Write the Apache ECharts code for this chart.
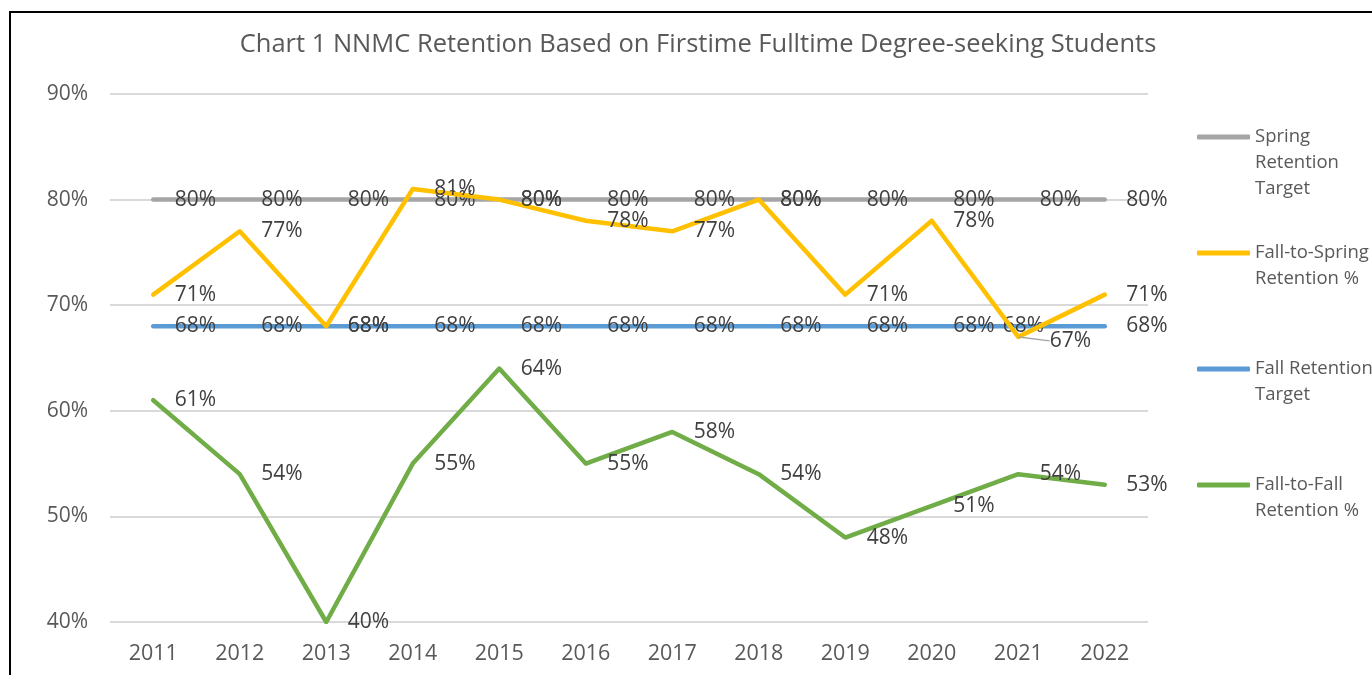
<!DOCTYPE html>
<html><head><meta charset="utf-8">
<script src="https://cdn.jsdelivr.net/npm/echarts@6/dist/echarts.min.js"></script>
<style>html,body{margin:0;padding:0;background:#fff}#c{width:1372px;height:675px}</style>
</head><body><div id="c"></div>
<script>
const years = ['2011','2012','2013','2014','2015','2016','2017','2018','2019','2020','2021','2022'];
const springTarget = [80,80,80,80,80,80,80,80,80,80,80,80];
const fallToSpring = [71,77,68,81,80,78,77,80,71,78,67,71];
const fallTarget = [68,68,68,68,68,68,68,68,68,68,68,68];
const fallToFall = [61,54,40,55,64,55,58,54,48,51,54,53];
const yTicks = {min:40, max:90, interval:10};
const seriesNames = ['Spring Retention Target','Fall-to-Spring Retention %','Fall Retention Target','Fall-to-Fall Retention %'];
const legendText = ['Spring\nRetention\nTarget','Fall-to-Spring\nRetention %','Fall Retention\nTarget','Fall-to-Fall\nRetention %'];
const colors = ['#A5A5A5','#FFC000','#5B9BD5','#70AD47'];
const FONT = 'Open Sans';
const LH = 26;

const chart = echarts.init(document.getElementById('c'));
function mkSeries(i, data, z) {
  return {
    name: seriesNames[i], type: 'line', data: data, z: z,
    symbol: 'circle', symbolSize: 1, showSymbol: true,
    itemStyle: {color: colors[i]},
    lineStyle: {color: colors[i], width: 4.5, cap: 'round', join: 'round'},
    label: {show: true, position: 'right', distance: 21, formatter: '{c}%',
            color: '#404040', fontFamily: FONT, fontSize: 21},
    labelLine: {show: false},
    emphasis: {disabled: true}, animation: false
  };
}
const legendTops = [137, 253, 369, 485];
const legends = seriesNames.map((n, i) => {
  const lines = legendText[i].split('\n');
  const nl = lines.length;
  const txt = new Array(nl - 1).fill(' ').concat(lines).join('\n');
  return {
    data: [n], orient: 'vertical', left: 1197, top: legendTops[i] - (2*nl-1)*LH/2,
    padding: 0, itemWidth: 53, itemHeight: 5, icon: 'roundRect', itemGap: 0,
    selectedMode: false,
    formatter: () => txt,
    textStyle: {color: '#595959', fontFamily: FONT, fontSize: 18.5, lineHeight: LH}
  };
});
const yellowData = fallToSpring.map((v, k) => k === 10
  ? {value: v, labelLine: {show: true, lineStyle: {color: '#A5A5A5', width: 1.5}}} : v);
const blueData = fallTarget.map((v, k) => k === 10 ? {value: v, label: {offset: [-37, 0]}} : v);
const ySeries = mkSeries(1, yellowData, 4);
ySeries.labelLayout = p => p.dataIndex === 10 ? {dx: 10, dy: 4} : {};
chart.setOption({
  backgroundColor: '#fff',
  title: {text: 'Chart 1 NNMC Retention Based on Firstime Fulltime Degree-seeking Students',
          left: 693, top: 27, textAlign: 'center',
          textStyle: {color: '#595959', fontFamily: FONT, fontSize: 25.5, fontWeight: 'normal'}},
  legend: legends,
  grid: {left: 110, right: 224, top: 94, bottom: 53},
  xAxis: {type: 'category', data: years, boundaryGap: true,
          axisLine: {show: false}, axisTick: {show: false},
          axisLabel: {color: '#595959', fontFamily: FONT, fontSize: 21.5, margin: 21}},
  yAxis: {type: 'value', min: yTicks.min, max: yTicks.max, interval: yTicks.interval,
          axisLine: {show: false}, axisTick: {show: false},
          axisLabel: {color: '#595959', fontFamily: FONT, fontSize: 21, margin: 22, formatter: '{value}%'},
          splitLine: {lineStyle: {color: '#D9D9D9', width: 2}}},
  graphic: [{type: 'rect', silent: true, z: 100,
             shape: {x: 10, y: 12, width: 1400, height: 700},
             style: {fill: 'none', stroke: '#000', lineWidth: 2}}],
  series: [
    mkSeries(0, springTarget, 2),
    mkSeries(2, blueData, 3),
    ySeries,
    mkSeries(3, fallToFall, 5)
  ]
});
</script></body></html>
